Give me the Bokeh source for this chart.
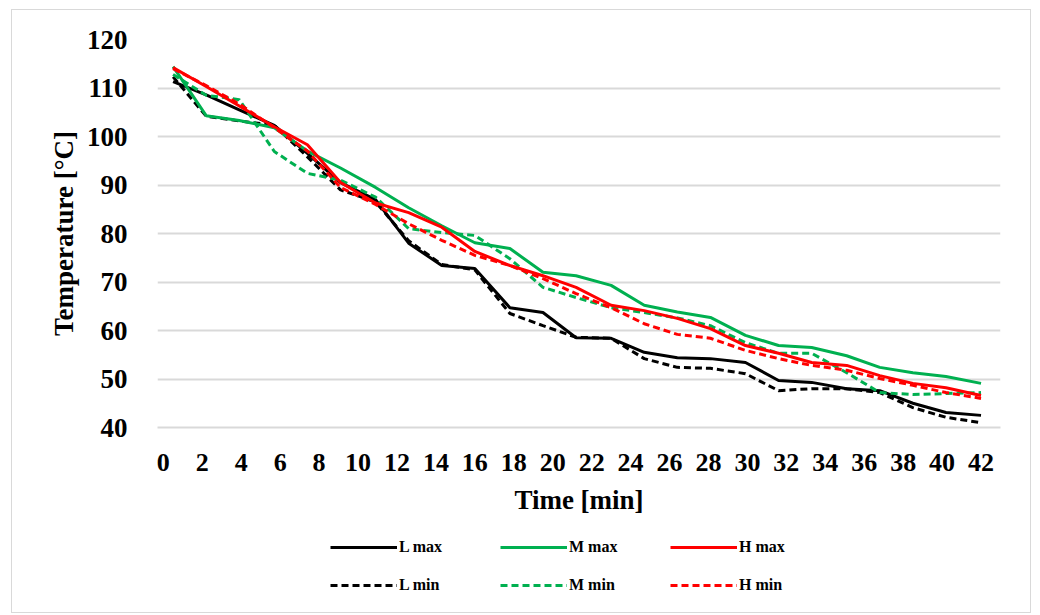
from bokeh.plotting import figure
from bokeh.models import FixedTicker, Legend, LegendItem, Range1d
from bokeh.layouts import column
from bokeh.embed import file_html
from bokeh.resources import INLINE

# ---- data ----
time_min = [0.5, 2.2, 3.9, 5.7, 7.4, 9.1, 10.9, 12.6, 14.3, 16.0, 17.8, 19.5, 21.2,
            23.0, 24.7, 26.4, 28.1, 29.9, 31.6, 33.3, 35.1, 36.8, 38.5, 40.2, 42.0]

l_max = [111.3, 108.6, 105.5, 102.3, 96.5, 90.5, 87.0, 78.0, 73.4, 72.8, 64.7, 63.7, 58.5,
         58.4, 55.5, 54.4, 54.2, 53.4, 49.7, 49.3, 48.0, 47.6, 45.0, 43.1, 42.5]
l_min = [112.3, 104.2, 103.2, 102.3, 95.8, 89.0, 86.5, 78.5, 73.6, 72.5, 63.5, 61.0, 58.6,
         58.4, 54.2, 52.4, 52.2, 51.1, 47.6, 48.0, 48.0, 47.2, 44.1, 42.1, 41.0]
m_max = [114.4, 104.3, 103.3, 101.8, 97.0, 93.5, 89.5, 85.3, 81.6, 78.1, 76.9, 72.0, 71.3,
         69.3, 65.2, 63.8, 62.7, 59.0, 56.9, 56.5, 54.8, 52.4, 51.3, 50.5, 49.1]
m_min = [112.8, 108.5, 107.6, 96.9, 92.4, 91.0, 87.5, 81.0, 80.2, 79.6, 74.8, 68.9, 66.8,
         64.7, 63.7, 62.6, 61.0, 57.5, 55.3, 55.3, 51.3, 47.2, 46.8, 47.0, 47.2]
h_max = [114.2, 110.3, 106.3, 102.0, 98.3, 90.5, 86.3, 84.3, 81.3, 76.3, 73.4, 71.3, 68.9,
         65.2, 64.1, 62.5, 60.4, 56.9, 55.3, 53.4, 52.8, 50.7, 49.1, 48.2, 46.6]
h_min = [114.0, 110.5, 106.7, 101.8, 97.0, 89.5, 86.0, 82.0, 78.6, 75.5, 73.4, 70.7, 67.6,
         64.7, 61.4, 59.2, 58.4, 55.9, 54.2, 52.8, 51.8, 50.1, 48.7, 47.2, 46.0]

x_ticks = [0, 2, 4, 6, 8, 10, 12, 14, 16, 18, 20, 22, 24, 26, 28, 30, 32, 34, 36, 38, 40, 42]
y_ticks = [40, 50, 60, 70, 80, 90, 100, 110, 120]

series_labels = ["L max", "L min", "M max", "M min", "H max", "H min"]

FONT = "Liberation Serif"
BLACK, GREEN, RED = "#000000", "#00b050", "#ff0000"
DASH = "7 4"
styles = [(BLACK, "solid"), (BLACK, DASH), (GREEN, "solid"), (GREEN, DASH),
          (RED, "solid"), (RED, DASH)]
series = [l_max, l_min, m_max, m_min, h_max, h_min]

# ---------------- main chart ----------------
p = figure(width=1018, height=515, output_backend="svg", toolbar_location=None,
           x_range=Range1d(-0.3, 43), y_range=Range1d(40, 120),
           min_border_left=145, min_border_right=30, min_border_top=29,
           min_border_bottom=98)
p.outline_line_color = None
p.background_fill_color = "white"
p.border_fill_color = "white"

p.xgrid.visible = False
p.ygrid.ticker = FixedTicker(ticks=y_ticks)
p.ygrid.grid_line_color = "#d9d9d9"
p.ygrid.grid_line_width = 2

xa = p.xaxis[0]
xa.ticker = FixedTicker(ticks=x_ticks)
xa.axis_line_color = "#d9d9d9"
xa.axis_line_width = 2
xa.major_tick_line_color = None
xa.minor_tick_line_color = None
xa.major_label_standoff = 20
xa.major_label_text_font = FONT
xa.major_label_text_font_style = "bold"
xa.major_label_text_font_size = "26px"
xa.major_label_text_color = "black"
xa.axis_label = "Time [min]"
xa.axis_label_text_font = FONT
xa.axis_label_text_font_style = "bold"
xa.axis_label_text_font_size = "27px"
xa.axis_label_text_color = "black"
xa.axis_label_standoff = 11

ya = p.yaxis[0]
ya.ticker = FixedTicker(ticks=y_ticks)
ya.axis_line_color = None
ya.major_tick_line_color = None
ya.minor_tick_line_color = None
ya.major_label_standoff = 24
ya.major_label_text_font = FONT
ya.major_label_text_font_style = "bold"
ya.major_label_text_font_size = "27px"
ya.major_label_text_color = "black"
ya.axis_label = "Temperature [°C]"
ya.axis_label_text_font = FONT
ya.axis_label_text_font_style = "bold"
ya.axis_label_text_font_size = "27px"
ya.axis_label_text_color = "black"
ya.axis_label_standoff = 5

for ys, (c, d) in zip(series, styles):
    p.line(time_min, ys, line_color=c, line_width=3, line_dash=d)

# ---------------- legend strip ----------------
lg = figure(width=1018, height=87, output_backend="svg", toolbar_location=None,
            x_range=Range1d(0, 1), y_range=Range1d(0, 1),
            min_border_left=0, min_border_right=0, min_border_top=0, min_border_bottom=0)
lg.axis.visible = False
lg.grid.visible = False
lg.outline_line_color = None
lg.background_fill_color = "white"
lg.border_fill_color = "white"

# legend-only renderers: a single point outside the strip's visible range
rmap = {}
for lab, (c, d) in zip(series_labels, styles):
    rmap[lab] = lg.line([-5], [-5], line_color=c, line_width=3, line_dash=d)

order = ["L max", "M max", "H max", "L min", "M min", "H min"]
items = [LegendItem(label=lab, renderers=[rmap[lab]]) for lab in order]
legend = Legend(items=items, orientation="horizontal", ncols=3, location=(173, 8),
                glyph_width=67, glyph_height=38, label_width=101, label_height=38,
                label_standoff=2, spacing=0, padding=0, margin=0,
                border_line_color=None, background_fill_alpha=0,
                label_text_font=FONT, label_text_font_style="bold",
                label_text_font_size="16px", label_text_color="black")
lg.add_layout(legend, "center")

layout = column(p, lg, spacing=0, margin=(10, 10, 3, 12),
                styles={"outline": "1px solid #d9d9d9"})

open("out.html", "w").write(file_html(layout, INLINE))
